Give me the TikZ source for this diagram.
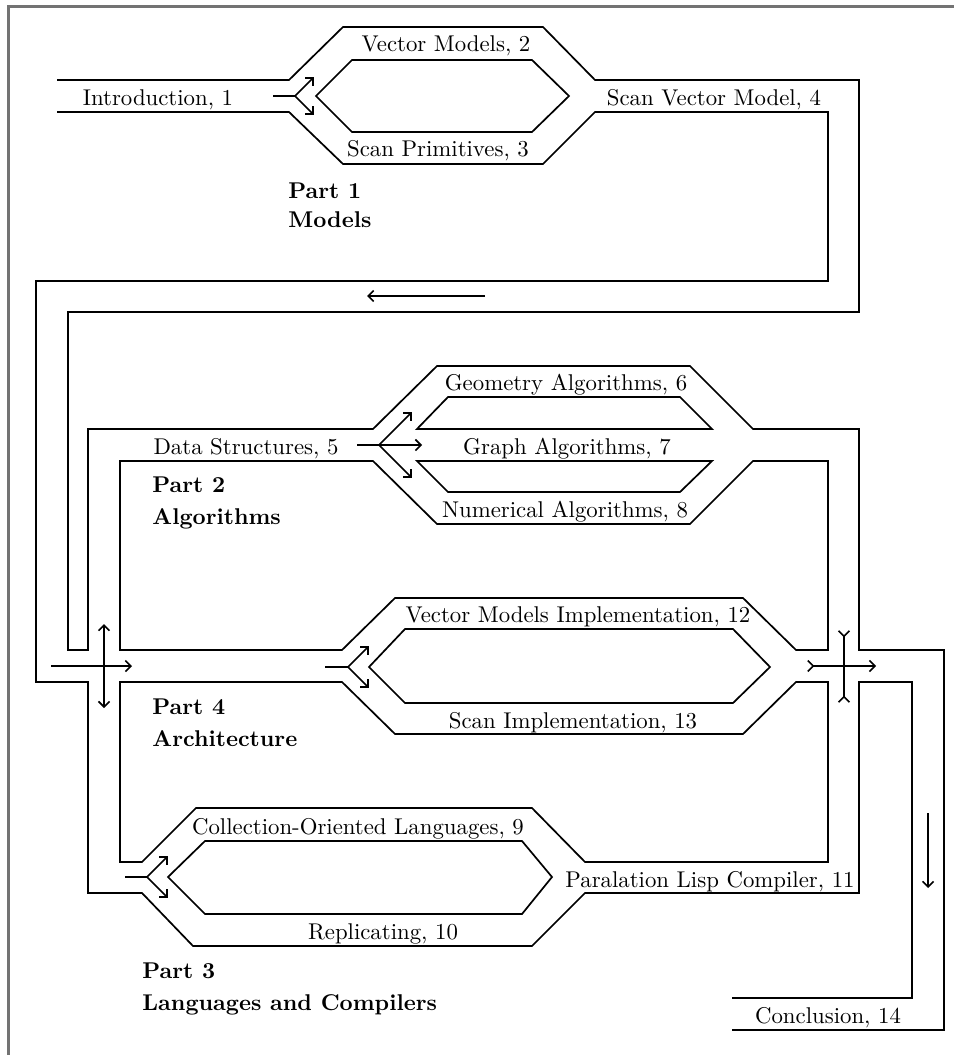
\documentclass[tikz,border=0pt]{standalone}
\usetikzlibrary{arrows.meta}

\begin{document}
\begin{tikzpicture}[
  x=0.4386pt, y=-0.4386pt,
  road/.style={line width=0.75pt, line join=miter},
  flow/.style={line width=0.7pt, >={Straight Barb[angle=90:3.4pt]}},
  chapter/.style={anchor=base, inner sep=0pt},
  part/.style={anchor=base west, inner sep=0pt, font=\bfseries}
]
  \useasboundingbox (0,0) rectangle (954,1055);

  % Cadre
  \draw[black!55, line width=1.1pt] (8.5,1055) -- (8.5,6.5) -- (954,6.5);

  % Bords de route (haut / gauche)
  \draw[road] (57,80) -- (289,80) -- (343,27) -- (543,27) -- (595,80) -- (859,80) -- (859,312)
    -- (68,312) -- (68,650) -- (88,650) -- (88,429) -- (373,429) -- (437,366) -- (690,366)
    -- (753,429) -- (859,429) -- (859,650) -- (944,650) -- (944,1030) -- (732,1030);
  \draw[road] (57,112) -- (289,112) -- (343,164) -- (543,164) -- (595,112) -- (828,112) -- (828,281)
    -- (36,281) -- (36,682) -- (88,682) -- (88,893) -- (142,893) -- (193,946) -- (532,946)
    -- (585,893) -- (859,893) -- (859,682) -- (912,682) -- (912,998) -- (732,998);

  % Ilots entre les routes
  \draw[road] (120,461) -- (373,461) -- (437,524) -- (690,524) -- (753,461) -- (828,461) -- (828,650)
    -- (796,650) -- (743,598) -- (395,598) -- (342,650) -- (120,650) -- cycle;
  \draw[road] (120,682) -- (342,682) -- (395,734) -- (743,734) -- (796,682) -- (828,682) -- (828,862)
    -- (585,862) -- (532,808) -- (196,808) -- (142,862) -- (120,862) -- cycle;
  \draw[road] (316,96) -- (352,60) -- (532,60) -- (569,96) -- (532,132) -- (352,132) -- cycle;
  \draw[road] (417,429) -- (448,397) -- (680,397) -- (712,429) -- cycle;
  \draw[road] (417,461) -- (712,461) -- (680,492) -- (448,492) -- cycle;
  \draw[road] (369,667) -- (405,629) -- (733,629) -- (770,667) -- (733,703) -- (405,703) -- cycle;
  \draw[road] (168,877) -- (205,841) -- (522,841) -- (552,877) -- (522,914) -- (205,914) -- cycle;

  % Chapitres
  \node[chapter] (intro) at (158,106) {Introduction, 1};
  \node[chapter] (vecmod) at (446,52) {Vector Models, 2};
  \node[chapter] (scanprim) at (438,157) {Scan Primitives, 3};
  \node[chapter] (svm) at (714,106) {Scan Vector Model, 4};
  \node[chapter] (datastr) at (246,454) {Data Structures, 5};
  \node[chapter] (geom) at (566,390) {Geometry Algorithms, 6};
  \node[chapter] (graph) at (567,454) {Graph Algorithms, 7};
  \node[chapter] (numer) at (565,517) {Numerical Algorithms, 8};
  \node[chapter] (collect) at (358,834) {Collection-Oriented Languages, 9};
  \node[chapter] (replic) at (383,939) {Replicating, 10};
  \node[chapter] (paral) at (710,887) {Paralation Lisp Compiler, 11};
  \node[chapter] (vmimpl) at (578,622) {Vector Models Implementation, 12};
  \node[chapter] (scanimpl) at (573,728) {Scan Implementation, 13};
  \node[chapter] (concl) at (828,1023) {Conclusion, 14};

  % Parties
  \node[part] (part1) at (288,199) {Part 1};
  \node[part] (part1name) at (288,228) {Models};
  \node[part] (part2) at (152,492) {Part 2};
  \node[part] (part2name) at (152,524) {Algorithms};
  \node[part] (part4) at (152,714) {Part 4};
  \node[part] (part4name) at (152,746) {Architecture};
  \node[part] (part3) at (142,978) {Part 3};
  \node[part] (part3name) at (142,1010) {Languages and Compilers};

  % Sens de circulation
  \draw[flow] (273,96) -- (295,96);
  \draw[flow, ->] (295,96) -- (314,77);
  \draw[flow, ->] (295,96) -- (314,115);
  \draw[flow, ->] (485,296) -- (367,296);
  \draw[flow] (357,445) -- (379,445);
  \foreach \ty in {412,478} \draw[flow, ->] (379,445) -- (412,\ty);
  \draw[flow, ->] (379,445) -- (422,445);
  \draw[flow, ->] (51,666) -- (132,666);
  \draw[flow, <->] (104,624) -- (104,708);
  \draw[flow] (325,667) -- (348,667);
  \draw[flow, ->] (348,667) -- (369,646);
  \draw[flow, ->] (348,667) -- (369,688);
  \draw[flow, >->] (807,666) -- (876,666);
  \draw[flow, >-<] (844,630) -- (844,703);
  \draw[flow] (125,877) -- (147,877);
  \draw[flow, ->] (147,877) -- (168,856);
  \draw[flow, ->] (147,877) -- (168,898);
  \draw[flow, ->] (928,813) -- (928,888);

\end{tikzpicture}
\end{document}
